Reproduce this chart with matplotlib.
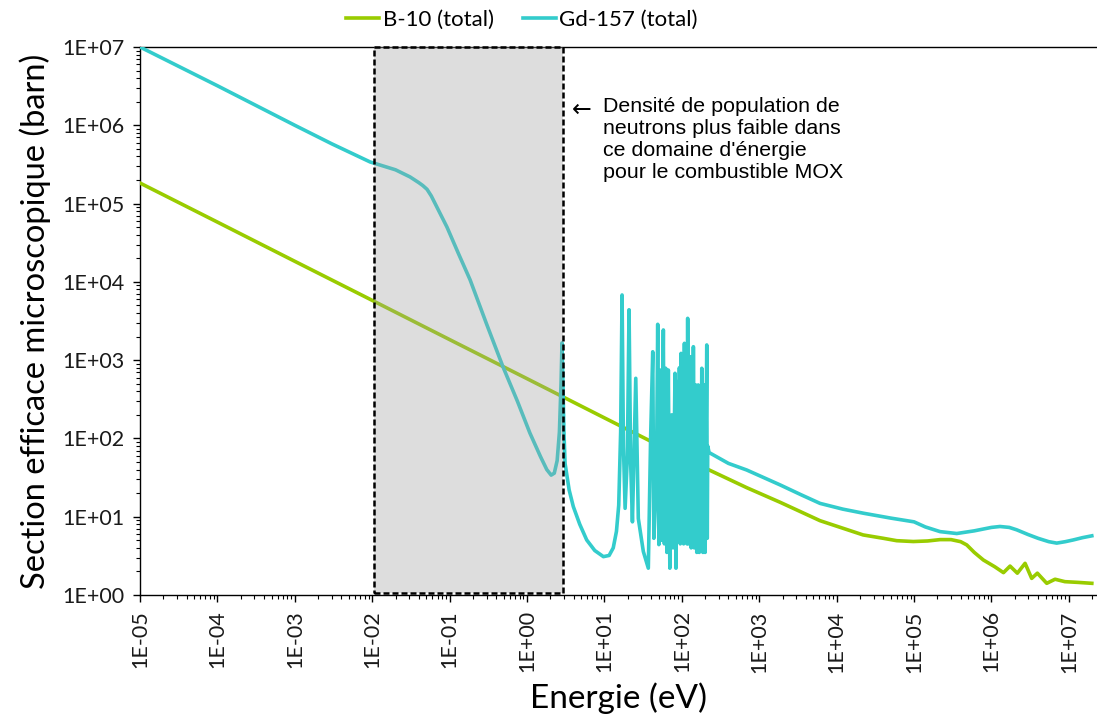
import matplotlib
matplotlib.use('Agg')
import matplotlib.pyplot as plt
from matplotlib.ticker import FixedLocator, LogLocator, NullFormatter, FuncFormatter
import numpy as np

# B-10 total cross section (energy in eV, sigma in barn)
b10_energy = [1e-5, 1e-4, 1e-3, 1e-2, 1e-1, 1.0, 10.0, 100.0, 220.0, 689.0, 1858.0,
              6.1e3, 2.2e4, 4.0e4, 5.97e4, 9.8e4, 1.5e5, 2.17e5, 3.0e5, 4.0e5, 4.8e5,
              6.0e5, 7.86e5, 1.1e6, 1.43e6, 1.74e6, 2.16e6, 2.72e6, 3.31e6, 3.92e6,
              5.18e6, 6.63e6, 8.9e6, 1.3e7, 1.98e7]
b10_sigma = [1.83e5, 5.8e4, 1.83e4, 5.8e3, 1.83e3, 580.0, 183.0, 58.0, 40.0, 23.5, 15.3,
             8.9, 5.85, 5.3, 4.94, 4.82, 4.9, 5.1, 5.1, 4.8, 4.36,
             3.5, 2.8, 2.3, 1.93, 2.34, 1.9, 2.54, 1.63, 1.9,
             1.41, 1.59, 1.48, 1.45, 1.41]

# Gd-157 total cross section
gd_energy = [1e-5, 1e-4, 1e-3, 3e-3, 9.4e-3, 0.02, 0.0308, 0.04, 0.045, 0.0511, 0.058,
             0.065, 0.075, 0.0925,
             0.13, 0.184, 0.3, 0.49, 0.75, 1.09, 1.5, 1.8, 2.05, 2.25, 2.45, 2.62, 2.75,
             2.83, 2.90, 3.0, 3.1, 3.5, 3.96, 4.8, 5.9, 7.5, 9.7, 11.5, 13.0, 14.3, 15.3,
             16.2, 16.9, 17.6, 18.5, 19.8, 20.8, 21.8, 23.0, 25.4, 27.4, 31.8, 36.9,
             39.5, 42.1, 43.5, 47.0, 48.8, 50.5, 52.3, 54.5, 57.7, 59.5, 61.9, 64.0,
             66.9, 70.0, 74.0, 77.0, 81.6, 84.0, 87.5, 90.0, 93.0, 95.5, 97.7, 100.0,
             103.0, 105.5, 108.0, 111.0, 114.0, 116.5, 119.0, 122.0, 125.0, 126.5,
             128.0, 132.0, 136.0, 138.5, 141.0, 145.0, 151.0, 156.0, 163.0, 168.0,
             173.0, 177.0, 181.0, 187.0, 194.0, 200.0, 210.0, 213.0, 216.0, 225.0,
             400.0, 689.0, 1000.0, 1858.0, 3500.0, 6.1e3, 1.2e4, 2.2e4, 5.0e4, 8.05e4,
             1.0e5, 1.4e5, 2.17e5, 3.56e5, 6.0e5, 1.0e6, 1.29e6, 1.7e6, 2.12e6, 3.0e6,
             4.0e6, 5.5e6, 6.97e6, 9.0e6, 1.14e7, 1.5e7, 1.98e7]
gd_sigma = [1.0e7, 3.2e6, 1.0e6, 5.8e5, 3.4e5, 2.7e5, 2.19e5, 1.85e5, 1.7e5, 1.52e5, 1.25e5,
            1.0e5, 7.6e4, 5.0e4,
            2.3e4, 1.06e4, 2.9e3, 818.0, 300.0, 117.0, 58.0, 40.0, 34.0, 36.0, 52.0, 120.0, 500.0,
            1660.0, 600.0, 120.0, 48.0, 22.0, 13.5, 8.0, 5.05, 3.7, 3.09, 3.2, 4.0, 6.5, 14.0,
            120.0, 6.8e3, 80.0, 12.8, 60.0, 4.4e3, 50.0, 8.6, 586.0, 9.5, 3.6, 2.2,
            100.0, 1280.0, 5.3, 30.0, 2870.0, 4.4, 748.0, 5.0, 2430.0, 4.5, 787.0, 3.5,
            748.0, 2.2, 200.0, 4.0, 679.0, 2.2, 531.0, 5.0, 800.0, 4.5, 1220.0, 5.0,
            900.0, 4.5, 1640.0, 5.0, 600.0, 4.5, 3420.0, 4.5, 700.0, 5.0,
            1107.0, 4.0, 500.0, 4.5, 1485.0, 4.0, 482.0, 3.5, 482.0, 3.5,
            300.0, 4.0, 787.0, 3.5, 482.0, 3.5, 1563.0, 5.3, 80.0, 66.0,
            48.0, 39.5, 33.5, 25.5, 19.0, 14.8, 12.5, 11.1, 9.6, 8.9,
            8.6, 7.4, 6.45, 6.1, 6.6, 7.3, 7.5, 7.3, 6.8, 5.9,
            5.3, 4.8, 4.6, 4.8, 5.05, 5.4, 5.7]

# energy window where MOX neutron population is lower
mox_zone = [1.05e-2, 2.95]

x_ticks = [10.0 ** k for k in range(-5, 8)]
y_ticks = [10.0 ** k for k in range(0, 8)]

col_b10 = '#99CC00'
col_gd = '#33CCCC'

fig = plt.figure(figsize=(10.97, 7.17), dpi=100)
ax = fig.add_axes([140 / 1097, 1 - 595 / 717, (1097 - 140) / 1097, (595 - 47) / 717])

ax.plot(b10_energy, b10_sigma, color=col_b10, lw=2.6, label='B-10 (total)',
        solid_joinstyle='round', zorder=3)
ax.plot(gd_energy, gd_sigma, color=col_gd, lw=2.6, label='Gd-157 (total)',
        solid_joinstyle='round', zorder=4)

# grey window drawn over the curves, dashed frame on top
ax.axvspan(mox_zone[0], mox_zone[1], ymin=0.003, ymax=1.0, facecolor='#a0a0a0',
           alpha=0.35, edgecolor='none', zorder=5)
ax.axvspan(mox_zone[0], mox_zone[1], ymin=0.003, ymax=1.0, facecolor='none',
           edgecolor='black', lw=1.8, ls=(0, (2.4, 1.2)), zorder=6, clip_on=False)

ax.set_xscale('log')
ax.set_yscale('log')
ax.set_xlim(1e-5, 2.31e7)
ax.set_ylim(1, 1e7)

def fmt_e(v, pos):
    k = int(round(np.log10(v)))
    return '1E%s%02d' % ('+' if k >= 0 else '-', abs(k))

ax.xaxis.set_major_locator(FixedLocator(x_ticks))
ax.yaxis.set_major_locator(FixedLocator(y_ticks))
ax.xaxis.set_major_formatter(FuncFormatter(fmt_e))
ax.yaxis.set_major_formatter(FuncFormatter(fmt_e))
ax.xaxis.set_minor_locator(LogLocator(base=10, subs=np.arange(2, 10), numticks=40))
ax.yaxis.set_minor_locator(LogLocator(base=10, subs=np.arange(2, 10), numticks=40))
ax.xaxis.set_minor_formatter(NullFormatter())
ax.yaxis.set_minor_formatter(NullFormatter())

for lab in ax.get_xticklabels():
    lab.set_rotation(90)
    lab.set_fontfamily('Lato')
    lab.set_fontsize(15.5)
for lab in ax.get_yticklabels():
    lab.set_fontfamily('Lato')
    lab.set_fontsize(15.5)
ax.tick_params(which='major', direction='out', length=5, width=1, colors='black',
               labelcolor='#1a1a1a', pad=6)
ax.tick_params(which='minor', direction='out', length=3, width=0.8, colors='black')

ax.spines['right'].set_visible(False)
for s in ['left', 'bottom', 'top']:
    ax.spines[s].set_linewidth(1.0)
    ax.spines[s].set_color('black')

ax.set_xlabel('Energie (eV)', fontfamily='Lato', fontsize=24, labelpad=7)
ax.set_ylabel('Section efficace microscopique (barn)', fontfamily='Lato', fontsize=23.5,
              labelpad=8)

fig.text(572 / 1097, 1 - 110 / 717, '\u2190', family=['DejaVu Sans'],
         fontsize=17, va='center', ha='left')
fig.text(603 / 1097, 1 - 97 / 717,
         "Densité de population de\nneutrons plus faible dans\nce domaine d'énergie\n"
         "pour le combustible MOX",
         family='Liberation Sans', fontsize=15.4, va='top', ha='left', linespacing=1.2)

fig.legend(loc='center', bbox_to_anchor=(522 / 1097, 1 - 20 / 717), ncol=2,
           frameon=False, prop=dict(family='Lato', size=16), handlelength=1.5,
           handletextpad=0.15, columnspacing=1.3)

plt.savefig('out.png', dpi=100)
